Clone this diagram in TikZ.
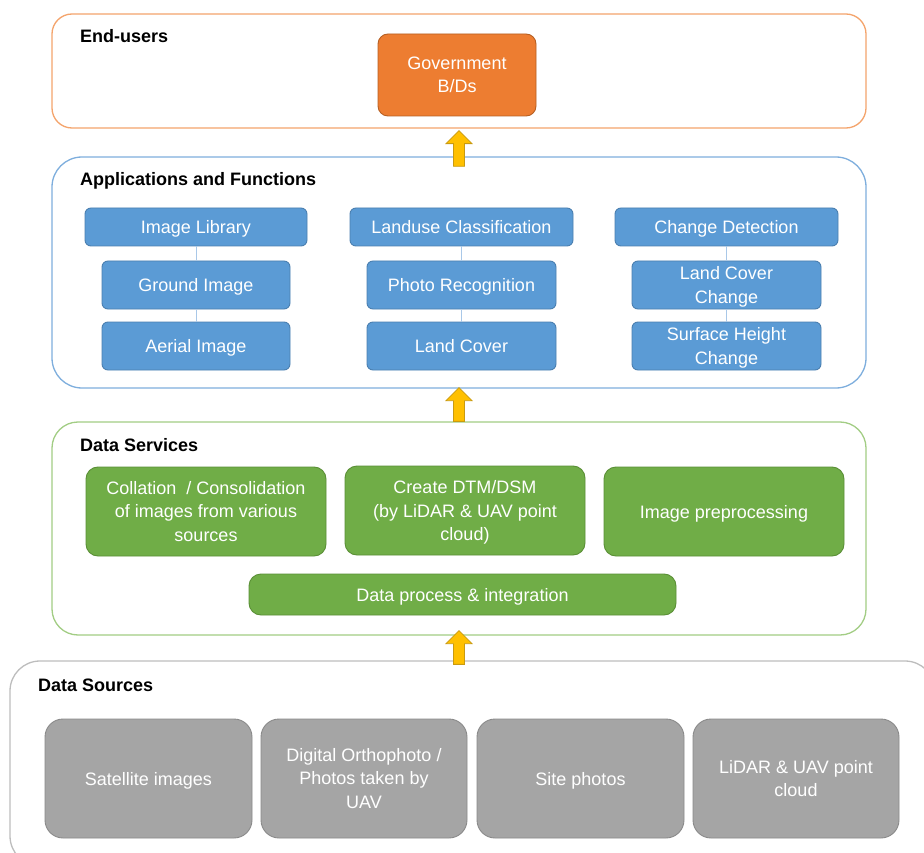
\documentclass[tikz,border=0pt]{standalone}
\usepackage{fontspec}
\setmainfont{Liberation Sans}
\usetikzlibrary{calc}

\definecolor{orangeline}{HTML}{F4A46C}
\definecolor{orangefill}{HTML}{ED7D31}
\definecolor{orangedark}{HTML}{B65F22}
\definecolor{blueline}{HTML}{7EAEDD}
\definecolor{bluefill}{HTML}{5B9BD5}
\definecolor{bluedark}{HTML}{4A7FB0}
\definecolor{bluelink}{HTML}{A9C8E8}
\definecolor{greenline}{HTML}{A2CD84}
\definecolor{greenfill}{HTML}{70AD47}
\definecolor{greendark}{HTML}{5A8F36}
\definecolor{grayline}{HTML}{BDBDBD}
\definecolor{grayfill}{HTML}{A5A5A5}
\definecolor{graydark}{HTML}{8A8A8A}
\definecolor{arrowfill}{HTML}{FFC000}
\definecolor{arrowline}{HTML}{C99A10}

% line whose descenders do not count in the vertical centring
\newcommand\nd[1]{\raisebox{0pt}[\height][0pt]{#1}}

% fat yellow upward arrow between two named coordinates
\newcommand\fatuparrow[2]{%
  \draw[fatarrow] let \p1=(#1), \p2=(#2) in
    (\x1-5.5pt,\y1) -- (\x1+5.5pt,\y1) -- (\x1+5.5pt,\y2-13pt) --
    (\x1+13pt,\y2-13pt) -- (\x1,\y2) -- (\x1-13pt,\y2-13pt) --
    (\x1-5.5pt,\y2-13pt) -- cycle;}

\begin{document}
\begin{tikzpicture}[x=1pt,y=-1pt,
  every node/.style={font=\fontsize{18}{23.5}\selectfont, align=center, inner sep=0pt},
  panel/.style={draw, line width=1.3pt, fill=white},
  title/.style={anchor=base west, font=\fontsize{18}{22}\selectfont\bfseries, text=black},
  govbox/.style={draw=orangedark, fill=orangefill, line width=0.9pt, rounded corners=10pt, text=white},
  appbox/.style={draw=bluedark, fill=bluefill, line width=0.9pt, rounded corners=6pt, text=white},
  svcbox/.style={draw=greendark, fill=greenfill, line width=0.9pt, rounded corners=12pt, text=white},
  srcbox/.style={draw=graydark, fill=grayfill, line width=0.9pt, rounded corners=18pt, text=white},
  applink/.style={draw=bluelink, line width=1pt},
  fatarrow/.style={draw=arrowline, fill=arrowfill, line width=0.8pt, line join=miter}
]
\useasboundingbox (0,0) rectangle (924,853);
\begin{scope}
\clip (0,0) rectangle (924,853);

% ---- panels ----
\node[panel, draw=orangeline, rounded corners=20pt, minimum width=814pt, minimum height=114pt] (endusers) at (459,71) {};
\node[panel, draw=blueline, rounded corners=30pt, minimum width=814pt, minimum height=231pt] (apps) at (459,272.5) {};
\node[panel, draw=greenline, rounded corners=26pt, minimum width=814pt, minimum height=213pt] (services) at (459,528.5) {};
\node[panel, draw=grayline, rounded corners=30pt, minimum width=925pt, minimum height=205pt] (sources) at (472.5,763.5) {};

\node[title] (t1) at (80,43) {End-users};
\node[title] (t2) at (80,186) {Applications and Functions};
\node[title] (t3) at (80,451) {Data Services};
\node[title] (t4) at (38,691) {Data Sources};

% ---- end-users ----
\node[govbox, minimum width=158pt, minimum height=82pt] (gov) at (457,75) {Government\\B/Ds};

% ---- applications and functions ----
\node[appbox, minimum width=222pt, minimum height=38pt] (imglib) at (196,227) {\nd{Image Library}};
\node[appbox, minimum width=188pt, minimum height=48pt] (ground) at (196,285) {\nd{Ground Image}};
\node[appbox, minimum width=188pt, minimum height=48pt] (aerial) at (196,346) {\nd{Aerial Image}};

\node[appbox, minimum width=223pt, minimum height=38pt] (landuse) at (461.5,227) {Landuse Classification};
\node[appbox, minimum width=189pt, minimum height=48pt] (photo) at (461.5,285) {\nd{Photo Recognition}};
\node[appbox, minimum width=189pt, minimum height=48pt] (landcover) at (461.5,346) {Land Cover};

\node[appbox, minimum width=223pt, minimum height=38pt] (change) at (726.5,227) {\nd{Change Detection}};
\node[appbox, minimum width=189pt, minimum height=48pt] (lcchange) at (726.5,285) {Land Cover\\\nd{Change}};
\node[appbox, minimum width=189pt, minimum height=48pt] (shchange) at (726.5,346) {Surface Height\\\nd{Change}};

\draw[applink] (imglib.south) -- (ground.north);
\draw[applink] (ground.south) -- (aerial.north);
\draw[applink] (landuse.south) -- (photo.north);
\draw[applink] (photo.south) -- (landcover.north);
\draw[applink] (change.south) -- (lcchange.north);
\draw[applink] (lcchange.south) -- (shchange.north);

% ---- data services ----
\node[svcbox, minimum width=240pt, minimum height=89pt] (collation) at (206,511.5) {Collation \ / Consolidation\\of images from various\\sources};
\node[svcbox, minimum width=240pt, minimum height=89pt] (dtm) at (465,510.5) {Create DTM/DSM\\(by LiDAR \& UAV point\\\nd{cloud)}};
\node[svcbox, minimum width=240pt, minimum height=89pt] (preproc) at (724,511.5) {\nd{Image preprocessing}};
\node[svcbox, minimum width=427pt, minimum height=41pt] (dataproc) at (462.5,594.5) {\nd{Data process \& integration}};

% ---- data sources ----
\node[srcbox, minimum width=207pt, minimum height=119pt] (sat) at (148.5,778.5) {\nd{Satellite images}};
\node[srcbox, minimum width=206pt, minimum height=119pt] (ortho) at (364,778.5) {Digital Orthophoto /\\Photos taken by\\UAV};
\node[srcbox, minimum width=207pt, minimum height=119pt] (site) at (580.5,778.5) {\nd{Site photos}};
\node[srcbox, minimum width=206pt, minimum height=119pt] (lidar) at (796,778.5) {LiDAR \& UAV point\\cloud};

% ---- flow arrows between layers ----
\coordinate (a1s) at ($(apps.north)+(0,10)$);
\coordinate (a1e) at ($(endusers.south)+(0,2)$);
\coordinate (a2s) at ($(services.north)+(0,0)$);
\coordinate (a2e) at ($(apps.south)+(0,-1)$);
\coordinate (a3s) at ($(sources.north -| services.south)+(0,4)$);
\coordinate (a3e) at ($(services.south)+(0,-5)$);
\fatuparrow{a1s}{a1e}
\fatuparrow{a2s}{a2e}
\fatuparrow{a3s}{a3e}
\end{scope}
\end{tikzpicture}
\end{document}
